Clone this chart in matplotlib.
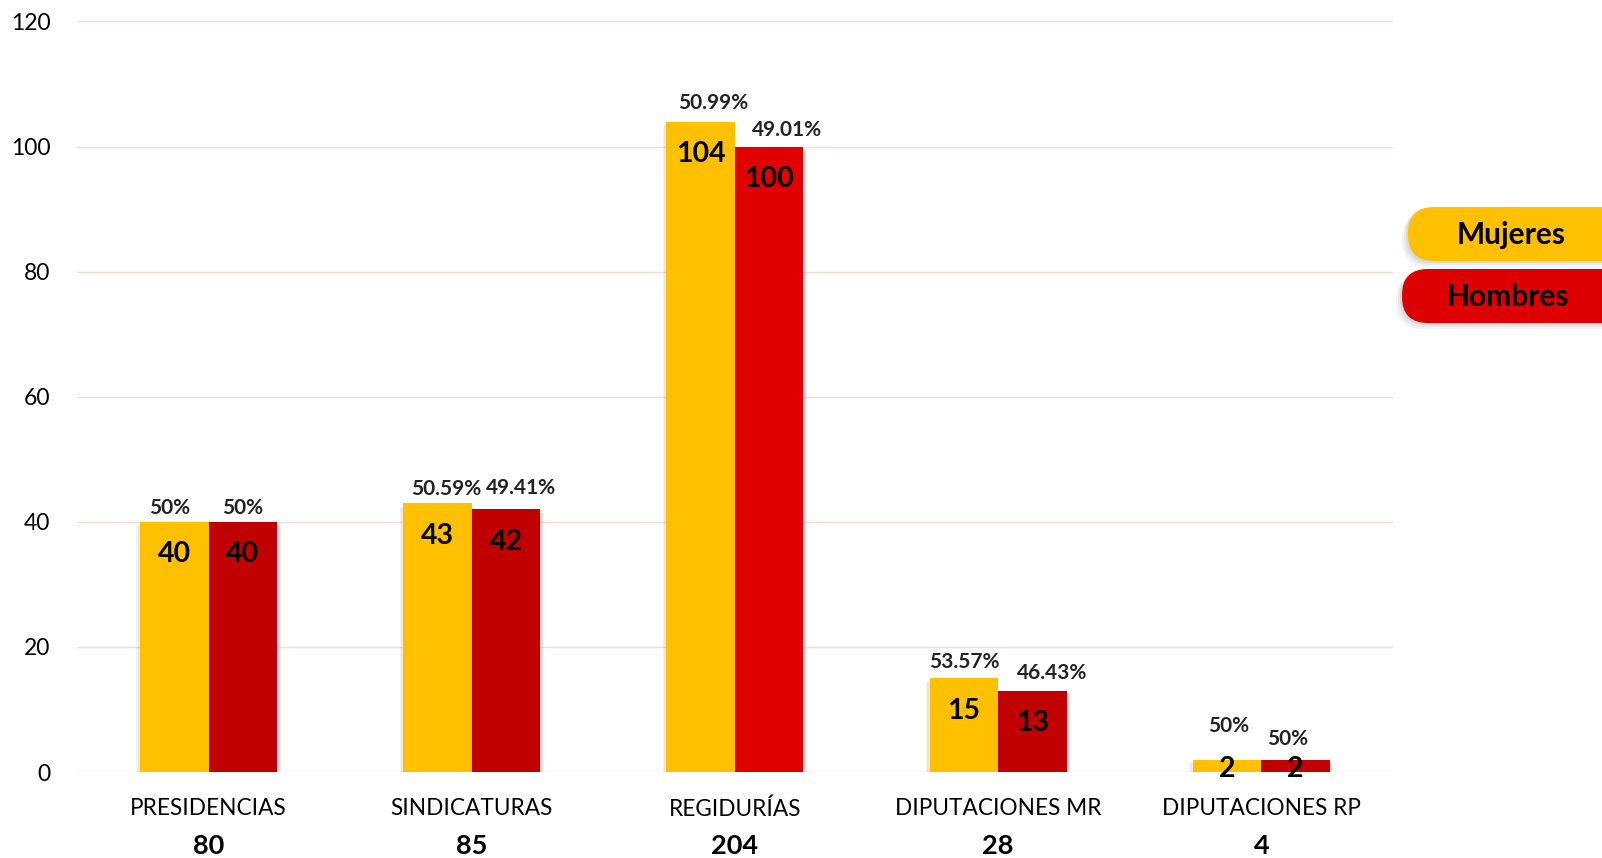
import matplotlib.pyplot as plt
from matplotlib.patches import FancyBboxPatch
import numpy as np

categorias = ['PRESIDENCIAS', 'SINDICATURAS', 'REGIDURÍAS', 'DIPUTACIONES MR', 'DIPUTACIONES RP']
mujeres = [40, 43, 104, 15, 2]
hombres = [40, 42, 100, 13, 2]
pct_mujeres = ['50%', '50.59%', '50.99%', '53.57%', '50%']
pct_hombres = ['50%', '49.41%', '49.01%', '46.43%', '50%']
totales = [80, 85, 204, 28, 4]

AMARILLO = '#FFC000'
ROJO = ['#C00000', '#C00000', '#E00000', '#C00000', '#C00000']

# label nudges (points) so the percentage labels don't collide, like in the original
dx_m = [-3, 6, 9, 0, 1]
dy_m = [10, 10, 13, 12, 24]
dx_h = [0, 11, 13, 14, -6]
dy_h = [10, 15, 12, 13, 15]

plt.rcParams['font.family'] = ['Lato', 'DejaVu Sans']

fig = plt.figure(figsize=(16.02, 8.58), dpi=100)
ax = fig.add_axes([0.048, 0.1002, 0.8215, 0.8748])

x = np.arange(len(categorias))
w = 0.26

# soft shadows behind the bars
for dx, a in [(0.014, 0.10), (0.009, 0.12)]:
    ax.bar(x - w / 2 - dx, mujeres, w, bottom=-0.6, color='#B08A3A', alpha=a, zorder=1)
    ax.bar(x + w / 2 + dx, hombres, w, bottom=-0.6, color='#C06060', alpha=a, zorder=1)

ax.bar(x - w / 2, mujeres, w, color=AMARILLO, zorder=2)
ax.bar(x + w / 2, hombres, w, color=ROJO, zorder=2)

for i in range(len(categorias)):
    for xi, v, p, ddx, ddy in [(x[i] - w / 2, mujeres[i], pct_mujeres[i], dx_m[i], dy_m[i]),
                               (x[i] + w / 2, hombres[i], pct_hombres[i], dx_h[i], dy_h[i])]:
        ax.annotate(p, (xi, v), xytext=(ddx, ddy), textcoords='offset points',
                    ha='center', va='center', fontsize=15, fontweight='bold', color='#222222')
        ax.text(xi, max(v - 5.2, 0.55), str(v), ha='center', va='center',
                fontsize=20.5, fontweight='bold', color='black', zorder=5)
    ax.annotate(str(totales[i]), (x[i], 0), xycoords=('data', 'axes fraction'),
                xytext=(0, -53), textcoords='offset points', ha='center', va='center',
                fontsize=19.5, fontweight='bold', color='black')

ax.set_xlim(-0.5, 4.5)
ax.set_ylim(0, 120)
ax.set_yticks(np.arange(0, 121, 20))
ax.set_xticks(x)
ax.set_xticklabels(categorias, fontsize=16.3)
ax.tick_params(axis='y', labelsize=16.5, length=0, pad=19)
ax.tick_params(axis='x', length=0, pad=19)
ax.grid(axis='y', color='#F6DADA', linewidth=1, zorder=0)
ax.set_axisbelow(True)
for s in ax.spines.values():
    s.set_visible(False)

# legend pills in pixel coordinates
lg = fig.add_axes([0, 0, 1, 1], zorder=10)
lg.set_xlim(0, 1602)
lg.set_ylim(858, 0)
lg.axis('off')
for (x0, y0, y1, color, txt, tx) in [(1408, 207, 261, AMARILLO, 'Mujeres', 1511),
                                     (1402, 269, 323, '#DD0000', 'Hombres', 1508)]:
    for k, a in [(6, 0.08), (4, 0.10), (2, 0.12)]:
        lg.add_patch(FancyBboxPatch((x0 - k, y0 + k), 260, y1 - y0,
                                    boxstyle='round,pad=0,rounding_size=26',
                                    color='#777777', alpha=a, lw=0))
    lg.add_patch(FancyBboxPatch((x0, y0), 260, y1 - y0,
                                boxstyle='round,pad=0,rounding_size=26',
                                color=color, lw=0))
    lg.text(tx, (y0 + y1) / 2 + 1, txt, ha='center', va='center',
            fontsize=21.5, fontweight='bold', color='black')

fig.savefig('out.png', dpi=100)
